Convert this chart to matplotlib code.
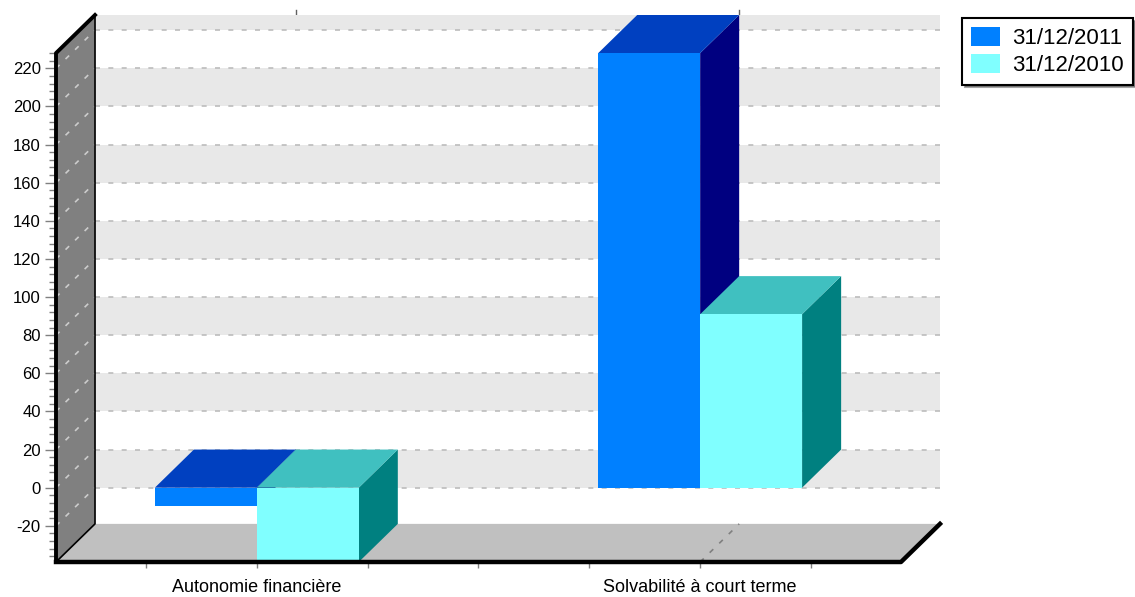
import numpy as np
import matplotlib.pyplot as plt
from matplotlib.patches import Polygon, Rectangle, Patch
from matplotlib.ticker import FixedLocator

plt.rcParams['font.family'] = ['Liberation Sans', 'DejaVu Sans']

# data
categories = ['Autonomie financière', 'Solvabilité à court terme']
series_names = ['31/12/2011', '31/12/2010']
values_2011 = [-9.5, 228]
values_2010 = [-45, 91]
y_ticks = list(range(-20, 221, 20))

front_colors = ['#0080ff', '#80ffff']
top_colors = ['#0040c0', '#40c0c0']
side_colors = ['#000080', '#008080']

# 3d box geometry (x in category units, y in value units)
ymin, ymax = -39, 228
dy = 20
x0, x1 = -0.453, 1.453
dx = 0.088
bar_w = 0.23

fig = plt.figure(figsize=(11.35, 5.97), dpi=100)
ax = fig.add_axes([56 / 1135, 35 / 597, 884 / 1135, 547 / 597])
ax.set_xlim(x0, x1 + dx)
ax.set_ylim(ymin, ymax + dy)
for s in ax.spines.values():
    s.set_visible(False)

# back wall with bands
ax.add_patch(Rectangle((x0 + dx, ymin + dy), x1 - x0, ymax - ymin, fc='white', ec='none', zorder=0))
band = -20
while band < ymax:
    top = min(band + 20, ymax)
    ax.add_patch(Rectangle((x0 + dx, band + dy), x1 - x0, top - band, fc='#e8e8e8', ec='none', zorder=0.5))
    band += 40

# left wall and floor
ax.add_patch(Polygon([(x0, ymin), (x0, ymax), (x0 + dx, ymax + dy), (x0 + dx, ymin + dy)],
                     fc='#808080', ec='none', zorder=1))
ax.add_patch(Polygon([(x0, ymin), (x1, ymin), (x1 + dx, ymin + dy), (x0 + dx, ymin + dy)],
                     fc='#c0c0c0', ec='none', zorder=1))

# grid lines
for v in y_ticks:
    ax.plot([x0 + dx, x1 + dx], [v + dy, v + dy], color='#bcbcbc', lw=1.2, ls=(0, (3, 5)), zorder=1.5)
    ax.plot([x0, x0 + dx], [v, v + dy], color='#cccccc', lw=1.2, ls=(0, (3, 5)), zorder=1.5)
for i in range(len(categories)):
    ax.plot([i, i + dx], [ymin, ymin + dy], color='#808080', lw=1.2, ls=(0, (3, 5)), zorder=1.5)
    ax.plot([i + dx, i + dx], [ymax + dy, ymax + dy + 2.5], color='#606060', lw=1, zorder=0.4, clip_on=False)

# frame lines
ax.plot([x0 + dx, x0 + dx, x0], [ymax + dy, ymin + dy, ymin], color='black', lw=1.2, zorder=2)
ax.plot([x0 + dx, x0, x0], [ymax + dy, ymax, ymin], color='black', lw=2.8, zorder=6,
        clip_on=False, solid_capstyle='projecting')
ax.plot([x0, x1, x1 + dx], [ymin, ymin, ymin + dy], color='black', lw=3.2, zorder=6,
        clip_on=False, solid_capstyle='projecting')


def draw_bar(left, value, k):
    lo = max(min(0, value), ymin)
    hi = min(max(0, value), ymax)
    r = left + bar_w
    ax.add_patch(Polygon([(r, lo), (r, hi), (r + dx, hi + dy), (r + dx, lo + dy)],
                         fc=side_colors[k], ec='none', zorder=3))
    ax.add_patch(Polygon([(left, hi), (r, hi), (r + dx, hi + dy), (left + dx, hi + dy)],
                         fc=top_colors[k], ec='none', zorder=3))
    ax.add_patch(Rectangle((left, lo), bar_w, hi - lo, fc=front_colors[k], ec='none', zorder=3))


for i in range(len(categories)):
    draw_bar(i - bar_w, values_2011[i], 0)
    draw_bar(i, values_2010[i], 1)

# axes ticks
ax.yaxis.set_major_locator(FixedLocator(y_ticks))
minor_y = [v for v in range(-36, 229, 4) if v % 20 != 0]
ax.yaxis.set_minor_locator(FixedLocator(minor_y))
ax.set_yticklabels([str(v) for v in y_ticks])
ax.tick_params(axis='y', which='major', length=8, width=1, color='#808080', pad=3, labelsize=12)
ax.tick_params(axis='y', which='minor', length=5, width=1, color='#808080')

ax.xaxis.set_major_locator(FixedLocator(range(len(categories))))
ax.xaxis.set_minor_locator(FixedLocator([-0.25, 0.25, 0.5, 0.75, 1.25]))
ax.set_xticklabels(categories)
ax.tick_params(axis='x', which='both', length=4, width=1, color='#808080', pad=8, labelsize=13)

# legend
handles = [Patch(fc=c, ec='none') for c in front_colors]
leg = fig.legend(handles, series_names, loc='upper left', bbox_to_anchor=(962 / 1135, 1 - 18 / 597),
                 fontsize=16, frameon=True, fancybox=False, shadow=True, framealpha=1,
                 edgecolor='black', handlelength=1.3, handleheight=0.95, handletextpad=0.55,
                 labelspacing=0.2, borderpad=0.4, borderaxespad=0)
leg.get_frame().set_linewidth(1.5)

fig.savefig('out.png', dpi=100)
